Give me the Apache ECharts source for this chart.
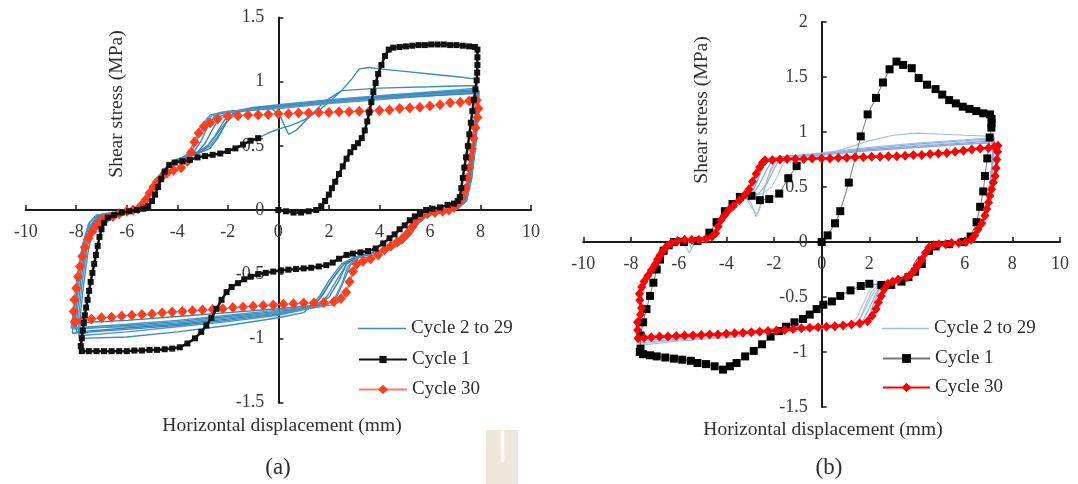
<!DOCTYPE html>
<html>
<head>
<meta charset="utf-8">
<script src="https://cdn.jsdelivr.net/npm/echarts@6/dist/echarts.min.js"></script>
<style>
  html, body { margin: 0; padding: 0; background: #fff; }
  #chart { width: 1078px; height: 484px; }
</style>
</head>
<body>
<div id="chart"></div>
<script>
// Axis ranges and tick steps: [min, max, interval]
const xRange = [-10, 10, 2];
const yRangeA = [-1.5, 1.5, 0.5];
const yRangeB = [-1.5, 2, 0.5];

// ---------- Panel (a): shear stress (MPa) vs horizontal displacement (mm) ----------
const cycle1A = [
  [0,0],[0.3,-0.01],[0.6,-0.02],[0.9,-0.02],[1.2,-0.01],[1.5,0.0],[1.7,0.03],[1.85,0.07],[2.0,0.12],[2.12,0.17],
  [2.25,0.22],[2.4,0.28],[2.55,0.34],[2.7,0.4],[2.85,0.45],[3.0,0.49],[3.15,0.52],[3.3,0.56],[3.42,0.62],[3.52,0.69],
  [3.6,0.76],[3.68,0.84],[3.76,0.92],[3.85,0.99],[3.95,1.06],[4.08,1.13],[4.22,1.2],[4.37,1.25],[4.55,1.265],[4.8,1.27],
  [5.05,1.275],[5.3,1.28],[5.55,1.285],[5.8,1.285],[6.05,1.29],[6.3,1.29],[6.55,1.29],[6.8,1.285],[7.05,1.285],[7.3,1.28],
  [7.55,1.275],[7.78,1.27],[7.88,1.25],[7.88,1.19],[7.88,1.13],[7.87,1.07],[7.85,1.01],[7.8,0.94],[7.74,0.86],[7.68,0.77],
  [7.62,0.68],[7.56,0.59],[7.5,0.5],[7.43,0.41],[7.36,0.33],[7.3,0.25],[7.24,0.17],[7.18,0.1],[7.1,0.07],[6.95,0.05],
  [6.7,0.04],[6.4,0.02],[6.1,0.01],[5.85,0.0],[5.6,-0.03],[5.4,-0.05],[5.2,-0.08],[5.0,-0.12],[4.8,-0.15],[4.6,-0.19],
  [4.4,-0.22],[4.15,-0.26],[3.85,-0.3],[3.55,-0.32],[3.25,-0.33],[2.95,-0.34],[2.7,-0.35],[2.4,-0.38],[2.15,-0.41],[1.9,-0.43],
  [1.6,-0.44],[1.3,-0.45],[1.0,-0.455],[0.7,-0.46],[0.4,-0.465],[0.1,-0.47],[-0.2,-0.48],[-0.5,-0.49],[-0.8,-0.5],[-1.1,-0.52],
  [-1.35,-0.54],[-1.6,-0.57],[-1.85,-0.6],[-2.05,-0.64],[-2.25,-0.7],[-2.45,-0.77],[-2.65,-0.84],[-2.85,-0.9],[-3.05,-0.95],[-3.3,-1.0],
  [-3.6,-1.04],[-3.9,-1.07],[-4.2,-1.08],[-4.5,-1.085],[-4.8,-1.09],[-5.1,-1.09],[-5.4,-1.095],[-5.7,-1.095],[-6.0,-1.1],[-6.3,-1.1],
  [-6.6,-1.1],[-6.9,-1.1],[-7.2,-1.1],[-7.5,-1.1],[-7.78,-1.1],[-7.82,-1.06],[-7.78,-1.0],[-7.74,-0.94],[-7.7,-0.88],[-7.66,-0.82],
  [-7.61,-0.76],[-7.55,-0.7],[-7.49,-0.63],[-7.43,-0.56],[-7.36,-0.49],[-7.29,-0.42],[-7.22,-0.35],[-7.15,-0.28],[-7.08,-0.21],[-7.0,-0.15],
  [-6.9,-0.1],[-6.75,-0.06],[-6.5,-0.04],[-6.2,-0.02],[-5.9,-0.01],[-5.6,0.0],[-5.35,0.01],[-5.15,0.03],[-5.0,0.07],[-4.88,0.12],
  [-4.76,0.18],[-4.64,0.24],[-4.5,0.3],[-4.32,0.35],[-4.1,0.37],[-3.8,0.38],[-3.5,0.39],[-3.2,0.41],[-2.9,0.42],[-2.6,0.43],
  [-2.3,0.44],[-2.0,0.46],[-1.7,0.48],[-1.4,0.51],[-1.1,0.54],[-0.8,0.56]
];

const cycle30A = [
  [-8.05,-0.87],[-8.1,-0.79],[-8.07,-0.7],[-8.0,-0.61],[-7.93,-0.52],[-7.85,-0.44],[-7.76,-0.36],[-7.66,-0.29],[-7.52,-0.22],[-7.37,-0.17],
  [-7.2,-0.12],[-7.0,-0.08],[-6.78,-0.06],[-6.55,-0.05],[-6.3,-0.03],[-6.0,-0.01],[-5.75,0.0],[-5.55,0.01],[-5.4,0.04],[-5.25,0.08],
  [-5.1,0.13],[-4.95,0.18],[-4.8,0.22],[-4.6,0.26],[-4.4,0.29],[-4.15,0.31],[-3.85,0.33],[-3.6,0.38],[-3.45,0.45],[-3.32,0.53],
  [-3.15,0.6],[-2.95,0.65],[-2.7,0.68],[-2.4,0.71],[-2.0,0.73],[-1.6,0.735],[-1.2,0.74],[-0.8,0.74],[-0.4,0.745],[0,0.75],
  [0.4,0.75],[0.8,0.755],[1.2,0.755],[1.6,0.76],[2.0,0.76],[2.4,0.765],[2.8,0.765],[3.2,0.77],[3.6,0.77],[4.0,0.775],
  [4.4,0.78],[4.8,0.79],[5.2,0.795],[5.6,0.8],[6.0,0.81],[6.4,0.82],[6.8,0.835],[7.2,0.84],[7.55,0.85],[7.85,0.855],
  [7.92,0.79],[7.88,0.72],[7.8,0.64],[7.73,0.56],[7.66,0.48],[7.6,0.41],[7.54,0.33],[7.48,0.25],[7.42,0.17],[7.3,0.11],
  [7.14,0.06],[6.95,0.02],[6.75,0.0],[6.5,-0.01],[6.2,-0.02],[5.9,-0.03],[5.65,-0.05],[5.45,-0.08],[5.3,-0.13],[5.12,-0.18],
  [4.92,-0.22],[4.7,-0.25],[4.45,-0.28],[4.2,-0.31],[3.95,-0.35],[3.65,-0.38],[3.35,-0.4],[3.1,-0.42],[2.95,-0.48],[2.82,-0.56],
  [2.68,-0.64],[2.48,-0.69],[2.2,-0.715],[1.8,-0.72],[1.4,-0.725],[1.0,-0.725],[0.6,-0.73],[0.2,-0.735],[-0.2,-0.74],[-0.6,-0.745],
  [-1.0,-0.75],[-1.4,-0.755],[-1.8,-0.76],[-2.2,-0.77],[-2.6,-0.775],[-3.0,-0.78],[-3.4,-0.785],[-3.8,-0.79],[-4.2,-0.795],[-4.6,-0.8],
  [-5.0,-0.81],[-5.4,-0.815],[-5.8,-0.82],[-6.2,-0.825],[-6.6,-0.835],[-7.0,-0.84],[-7.4,-0.85],[-7.75,-0.86],[-8.05,-0.87]
];

// Intermediate cycles 2 to 29 (panel a)
const cyclesMidA = [
  [[-0.8,0.56],[-0.4,0.6],[0,0.63],[0.5,0.66],[1.0,0.7],[1.5,0.76],[2.0,0.84],[2.5,0.93],[2.9,1.02],[3.2,1.1],[3.6,1.11],[4.0,1.1],[5.0,1.08],[6.0,1.06],[7.0,1.04],[7.85,1.02],[7.86,0.9],[7.78,0.7],[7.64,0.45],[7.48,0.2],[7.3,0.06],[7.0,0.02],[6.3,-0.01],[5.8,-0.04],[5.5,-0.1],[5.2,-0.19],[4.8,-0.26],[4.2,-0.31],[3.5,-0.34],[3.0,-0.37],[2.6,-0.42],[2.1,-0.55],[1.6,-0.7],[1.0,-0.8],[0,-0.84],[-2,-0.9],[-4,-0.95],[-6,-0.99],[-7.85,-1.0],[-7.85,-0.85],[-7.72,-0.6],[-7.55,-0.35],[-7.35,-0.15],[-7.05,-0.06],[-6.5,-0.02],[-6.0,0.0],[-5.5,0.03],[-5.2,0.1],[-4.9,0.2],[-4.6,0.3],[-4.2,0.38],[-3.7,0.42],[-3.2,0.45],[-2.8,0.5],[-2.4,0.6],[-2.0,0.7],[-1.6,0.76],[-1.0,0.79],[-0.3,0.8],[0.1,0.72],[0.4,0.59],[0.7,0.62],[1.2,0.72],[1.8,0.84],[2.5,0.93],[4.0,0.95],[6.0,0.96],[7.85,0.97]],
  [[7.85,0.97],[7.84,0.8],[7.74,0.55],[7.58,0.3],[7.4,0.1],[7.1,0.02],[6.4,-0.02],[5.9,-0.04],[5.55,-0.09],[5.25,-0.18],[4.9,-0.25],[4.4,-0.3],[3.7,-0.34],[3.1,-0.37],[2.7,-0.42],[2.3,-0.55],[1.9,-0.68],[1.4,-0.76],[0,-0.82],[-2,-0.87],[-4,-0.91],[-6,-0.95],[-7.9,-0.98],[-7.9,-0.82],[-7.76,-0.56],[-7.58,-0.3],[-7.38,-0.13],[-7.08,-0.05],[-6.5,-0.02],[-6.0,0.0],[-5.5,0.03],[-5.2,0.1],[-4.9,0.2],[-4.6,0.3],[-4.2,0.37],[-3.7,0.41],[-3.2,0.44],[-2.7,0.5],[-2.3,0.6],[-2.0,0.7],[-1.7,0.77],[-1.0,0.8],[0,0.82],[2,0.86],[4,0.89],[6,0.92],[7.88,0.95]],
  [[7.88,0.95],[7.86,0.78],[7.75,0.52],[7.58,0.27],[7.38,0.08],[7.05,0.01],[6.4,-0.02],[5.9,-0.04],[5.55,-0.1],[5.25,-0.18],[4.9,-0.25],[4.4,-0.3],[3.7,-0.34],[3.1,-0.37],[2.6,-0.42],[2.2,-0.52],[1.8,-0.65],[1.4,-0.75],[0,-0.8],[-2,-0.85],[-4,-0.89],[-6,-0.92],[-8.0,-0.95],[-7.95,-0.78],[-7.8,-0.52],[-7.6,-0.28],[-7.4,-0.12],[-7.1,-0.05],[-6.5,-0.02],[-6.0,0.0],[-5.5,0.03],[-5.2,0.1],[-4.9,0.2],[-4.6,0.3],[-4.2,0.37],[-3.7,0.41],[-3.2,0.44],[-2.7,0.48],[-2.4,0.56],[-2.1,0.67],[-1.8,0.75],[-1.2,0.79],[0,0.81],[2,0.85],[4,0.88],[6,0.91],[7.9,0.94]],
  [[7.9,0.94],[7.87,0.76],[7.77,0.5],[7.6,0.25],[7.4,0.07],[7.05,0.01],[6.4,-0.02],[5.9,-0.04],[5.55,-0.1],[5.25,-0.18],[4.9,-0.25],[4.4,-0.3],[3.7,-0.34],[3.2,-0.37],[2.85,-0.43],[2.6,-0.55],[2.3,-0.68],[1.9,-0.74],[0,-0.79],[-2,-0.83],[-4,-0.87],[-6,-0.9],[-8.05,-0.93],[-8.0,-0.75],[-7.85,-0.5],[-7.65,-0.27],[-7.45,-0.12],[-7.15,-0.05],[-6.5,-0.02],[-6.0,0.0],[-5.5,0.03],[-5.2,0.1],[-4.9,0.2],[-4.6,0.3],[-4.2,0.37],[-3.7,0.4],[-3.35,0.45],[-3.05,0.54],[-2.8,0.65],[-2.5,0.74],[-1.8,0.77],[0,0.8],[2,0.84],[4,0.87],[6,0.9],[7.9,0.93]],
  [[7.9,0.93],[7.88,0.74],[7.8,0.5],[7.64,0.25],[7.44,0.07],[7.08,0.01],[6.4,-0.02],[5.9,-0.04],[5.55,-0.1],[5.25,-0.19],[4.9,-0.26],[4.4,-0.31],[3.8,-0.35],[3.3,-0.38],[3.0,-0.45],[2.8,-0.58],[2.55,-0.7],[2.1,-0.74],[0,-0.78],[-2,-0.82],[-4,-0.86],[-6,-0.89],[-8.1,-0.92],[-8.05,-0.74],[-7.9,-0.48],[-7.7,-0.25],[-7.48,-0.1],[-7.15,-0.04],[-6.5,-0.02],[-6.0,0.0],[-5.5,0.03],[-5.2,0.1],[-4.9,0.2],[-4.6,0.3],[-4.2,0.36],[-3.8,0.4],[-3.5,0.46],[-3.3,0.55],[-3.1,0.64],[-2.8,0.72],[-2.3,0.76],[0,0.79],[2,0.83],[4,0.86],[6,0.89],[7.92,0.92]],
  [[7.92,0.92],[7.88,0.74],[7.78,0.5],[7.62,0.26],[7.42,0.08],[7.08,0.01],[6.4,-0.02],[5.9,-0.04],[5.55,-0.1],[5.25,-0.18],[4.9,-0.25],[4.4,-0.3],[3.7,-0.34],[3.1,-0.37],[2.7,-0.42],[2.4,-0.55],[2.0,-0.68],[1.6,-0.74],[0,-0.77],[-2,-0.8],[-4,-0.83],[-6,-0.86],[-8.1,-0.88],[-8.05,-0.72],[-7.9,-0.47],[-7.7,-0.25],[-7.48,-0.1],[-7.15,-0.04],[-6.5,-0.02],[-6.0,0.0],[-5.5,0.03],[-5.2,0.1],[-4.9,0.2],[-4.6,0.3],[-4.2,0.37],[-3.7,0.41],[-3.2,0.45],[-2.9,0.52],[-2.6,0.63],[-2.3,0.73],[-1.8,0.77],[0,0.8],[2,0.84],[4,0.87],[6,0.89],[7.92,0.91]],
  [[7.92,0.91],[7.9,0.72],[7.8,0.48],[7.65,0.24],[7.45,0.07],[7.1,0.01],[6.4,-0.02],[5.9,-0.04],[5.55,-0.1],[5.25,-0.18],[4.9,-0.25],[4.4,-0.3],[3.7,-0.34],[3.0,-0.37],[2.5,-0.42],[2.0,-0.55],[1.6,-0.68],[1.2,-0.76],[0,-0.81],[-2,-0.86],[-4,-0.9],[-6,-0.93],[-8.15,-0.96],[-8.1,-0.78],[-7.95,-0.52],[-7.75,-0.28],[-7.52,-0.11],[-7.2,-0.04],[-6.5,-0.02],[-6.0,0.0],[-5.5,0.03],[-5.2,0.1],[-4.9,0.2],[-4.6,0.3],[-4.2,0.37],[-3.7,0.41],[-3.2,0.45],[-2.8,0.5],[-2.5,0.58],[-2.2,0.68],[-1.9,0.76],[-1.2,0.79],[0,0.81],[2,0.85],[4,0.88],[6,0.91],[7.95,0.93]],
  [[7.95,0.93],[7.9,0.75],[7.8,0.5],[7.64,0.26],[7.44,0.08],[7.1,0.01],[6.4,-0.02],[5.9,-0.04],[5.55,-0.1],[5.25,-0.18],[4.9,-0.25],[4.4,-0.3],[3.7,-0.34],[3.1,-0.37],[2.75,-0.44],[2.5,-0.58],[2.2,-0.7],[1.8,-0.75],[0,-0.8],[-2,-0.84],[-4,-0.88],[-6,-0.91],[-8.2,-0.92],[-8.1,-0.76],[-7.95,-0.5],[-7.75,-0.27],[-7.5,-0.11],[-7.2,-0.04],[-6.5,-0.02],[-6.0,0.0],[-5.5,0.03],[-5.2,0.1],[-4.9,0.2],[-4.6,0.3],[-4.2,0.37],[-3.7,0.41],[-3.4,0.47],[-3.2,0.56],[-2.95,0.66],[-2.7,0.74],[-2.0,0.77],[0,0.8],[2,0.84],[4,0.87],[6,0.9],[7.95,0.92]]
];

// ---------- Panel (b) ----------
const cycle1B = [
  [0,0],[0.25,0.06],[0.56,0.17],[0.78,0.28],[1.14,0.54],[1.64,0.96],[1.93,1.16],[2.28,1.31],[2.57,1.45],[2.85,1.57],
  [3.14,1.64],[3.42,1.61],[3.78,1.58],[4.07,1.49],[4.42,1.43],[4.78,1.39],[5.06,1.34],[5.35,1.29],[5.63,1.26],[5.92,1.23],
  [6.2,1.21],[6.49,1.19],[6.78,1.17],[7.06,1.16],[7.13,1.12],[7.13,1.08],[7.12,1.04],[7.05,0.95],[6.95,0.76],[6.85,0.6],
  [6.78,0.46],[6.65,0.32],[6.5,0.18],[6.25,0.05],[5.95,0.0],[5.35,-0.02],[4.78,-0.04],[4.5,-0.08],[4.2,-0.2],[3.92,-0.27],
  [3.64,-0.32],[3.35,-0.36],[2.92,-0.39],[2.5,-0.39],[2.0,-0.38],[1.64,-0.4],[1.21,-0.44],[0.78,-0.49],[0.43,-0.54],[0.07,-0.57],
  [-0.21,-0.61],[-0.5,-0.66],[-0.78,-0.7],[-1.14,-0.73],[-1.5,-0.77],[-1.78,-0.81],[-2.14,-0.86],[-2.5,-0.93],[-2.85,-0.99],[-3.21,-1.04],
  [-3.57,-1.1],[-3.85,-1.13],[-4.14,-1.16],[-4.49,-1.13],[-4.85,-1.11],[-5.21,-1.1],[-5.49,-1.08],[-5.85,-1.07],[-6.2,-1.06],[-6.56,-1.05],
  [-6.92,-1.04],[-7.2,-1.03],[-7.49,-1.02],[-7.63,-1.0],[-7.6,-0.97],[-7.6,-0.85],[-7.49,-0.73],[-7.35,-0.61],[-7.2,-0.49],[-7.06,-0.37],
  [-6.92,-0.25],[-6.78,-0.16],[-6.63,-0.08],[-6.42,-0.03],[-6.2,0.0],[-5.78,0.0],[-5.21,0.01],[-4.71,0.085],[-4.41,0.18],[-4.06,0.28],
  [-3.74,0.345],[-3.43,0.41],[-2.94,0.42],[-2.59,0.38],[-2.2,0.39],[-1.78,0.44],[-1.4,0.58],[-1.05,0.69]
];

const cycle30B = [
  [-2.38,0.74],[-2.07,0.745],[-1.75,0.75],[-1.45,0.755],[-1.1,0.755],[-0.75,0.755],[-0.4,0.76],[0,0.76],[0.35,0.76],[0.7,0.765],
  [1.05,0.765],[1.4,0.77],[1.75,0.77],[2.1,0.775],[2.45,0.775],[2.8,0.78],[3.15,0.78],[3.5,0.785],[3.85,0.79],[4.2,0.79],
  [4.55,0.8],[4.9,0.805],[5.25,0.81],[5.6,0.82],[5.95,0.83],[6.3,0.84],[6.65,0.85],[7.0,0.855],[7.25,0.865],[7.4,0.875],
  [7.38,0.82],[7.35,0.75],[7.32,0.67],[7.28,0.6],[7.2,0.54],[7.13,0.48],[7.06,0.42],[7.0,0.36],[6.93,0.3],[6.85,0.24],
  [6.72,0.17],[6.56,0.115],[6.42,0.06],[6.28,0.02],[6.05,0.0],[5.75,-0.01],[5.45,-0.01],[5.2,-0.02],[4.92,-0.02],[4.7,-0.03],
  [4.5,-0.05],[4.35,-0.1],[4.2,-0.16],[4.05,-0.21],[3.92,-0.25],[3.75,-0.29],[3.57,-0.32],[3.21,-0.34],[2.98,-0.36],[2.78,-0.38],
  [2.62,-0.43],[2.5,-0.49],[2.38,-0.55],[2.28,-0.61],[2.12,-0.67],[1.93,-0.72],[1.6,-0.74],[1.25,-0.75],[0.9,-0.76],[0.55,-0.765],
  [0.2,-0.77],[-0.15,-0.775],[-0.5,-0.78],[-0.85,-0.785],[-1.2,-0.79],[-1.55,-0.8],[-1.9,-0.805],[-2.25,-0.81],[-2.6,-0.815],[-2.95,-0.82],
  [-3.3,-0.825],[-3.65,-0.83],[-4.0,-0.835],[-4.35,-0.84],[-4.7,-0.84],[-5.05,-0.845],[-5.4,-0.85],[-5.75,-0.85],[-6.1,-0.855],[-6.45,-0.86],
  [-6.8,-0.86],[-7.15,-0.865],[-7.45,-0.87],[-7.7,-0.875],[-7.72,-0.8],[-7.73,-0.73],[-7.6,-0.66],[-7.56,-0.6],[-7.63,-0.53],[-7.65,-0.47],
  [-7.55,-0.41],[-7.45,-0.36],[-7.3,-0.31],[-7.15,-0.26],[-7.0,-0.21],[-6.88,-0.16],[-6.78,-0.12],[-6.65,-0.08],[-6.5,-0.04],[-6.3,-0.01],
  [-6.05,0.01],[-5.75,0.02],[-5.45,0.02],[-5.15,0.02],[-4.85,0.03],[-4.6,0.05],[-4.45,0.08],[-4.34,0.14],[-4.22,0.2],[-4.08,0.24],
  [-3.9,0.29],[-3.7,0.33],[-3.45,0.38],[-3.22,0.43],[-3.05,0.48],[-2.9,0.55],[-2.75,0.62],[-2.6,0.68],[-2.48,0.72],[-2.38,0.74]
];

// Intermediate cycles 2 to 29 (panel b)
const cyclesMidB = [
  [[-1.05,0.69],[-0.5,0.76],[0,0.79],[1,0.85],[2,0.92],[3,0.97],[4,0.99],[5,0.98],[6,0.97],[7.2,0.96],[7.2,0.85],[7.12,0.65],[7.0,0.45],[6.85,0.27],[6.65,0.12],[6.4,0.03],[6.0,0.0],[5.4,-0.01],[4.9,-0.02],[4.6,-0.05],[4.35,-0.12],[4.1,-0.21],[3.8,-0.27],[3.4,-0.32],[2.9,-0.36],[2.5,-0.38],[2.2,-0.45],[1.9,-0.58],[1.6,-0.7],[1.2,-0.76],[0,-0.79],[-2,-0.83],[-4,-0.87],[-6,-0.9],[-7.65,-0.94],[-7.7,-0.8],[-7.6,-0.6],[-7.45,-0.42],[-7.2,-0.27],[-6.95,-0.15],[-6.7,-0.06],[-6.4,-0.01],[-6.0,0.01],[-5.7,-0.04],[-5.55,-0.1],[-5.4,-0.03],[-5.0,0.01],[-4.6,0.04],[-4.35,0.12],[-4.15,0.22],[-3.9,0.3],[-3.5,0.37],[-3.2,0.42],[-2.95,0.35],[-2.75,0.23],[-2.6,0.3],[-2.45,0.45],[-2.2,0.62],[-1.9,0.74],[-1.4,0.78],[0,0.81],[2,0.86],[4,0.9],[6,0.93],[7.25,0.95]],
  [[7.25,0.95],[7.22,0.8],[7.14,0.6],[7.02,0.42],[6.88,0.25],[6.68,0.11],[6.42,0.02],[6.0,0.0],[5.4,-0.01],[4.9,-0.02],[4.6,-0.05],[4.35,-0.12],[4.1,-0.21],[3.8,-0.27],[3.4,-0.32],[2.9,-0.36],[2.5,-0.39],[2.25,-0.48],[2.0,-0.6],[1.75,-0.71],[1.4,-0.75],[0,-0.78],[-2,-0.81],[-4,-0.85],[-6,-0.88],[-7.7,-0.92],[-7.72,-0.78],[-7.62,-0.58],[-7.45,-0.4],[-7.2,-0.25],[-6.95,-0.14],[-6.7,-0.05],[-6.4,-0.01],[-6.0,0.01],[-5.5,0.01],[-5.0,0.01],[-4.6,0.04],[-4.35,0.12],[-4.15,0.22],[-3.9,0.3],[-3.5,0.37],[-3.1,0.42],[-2.8,0.46],[-2.55,0.55],[-2.3,0.66],[-2.05,0.75],[-1.5,0.78],[0,0.8],[2,0.85],[4,0.89],[6,0.92],[7.25,0.94]],
  [[7.25,0.94],[7.2,0.78],[7.1,0.58],[6.98,0.4],[6.84,0.24],[6.64,0.1],[6.4,0.02],[6.0,0.0],[5.4,-0.01],[4.9,-0.02],[4.6,-0.05],[4.35,-0.12],[4.1,-0.21],[3.8,-0.27],[3.4,-0.32],[2.9,-0.36],[2.3,-0.38],[2.0,-0.44],[1.75,-0.56],[1.5,-0.68],[1.2,-0.75],[0,-0.78],[-2,-0.82],[-4,-0.86],[-6,-0.89],[-7.75,-0.93],[-7.75,-0.78],[-7.64,-0.58],[-7.47,-0.4],[-7.22,-0.25],[-6.97,-0.14],[-6.72,-0.05],[-6.4,-0.01],[-6.0,0.01],[-5.5,0.01],[-5.0,0.01],[-4.6,0.04],[-4.35,0.12],[-4.15,0.22],[-3.9,0.3],[-3.5,0.37],[-3.0,0.41],[-2.5,0.44],[-2.1,0.5],[-1.85,0.6],[-1.65,0.7],[-1.4,0.77],[0,0.8],[2,0.84],[4,0.88],[6,0.91],[7.22,0.93]],
  [[7.22,0.93],[7.2,0.77],[7.12,0.58],[7.0,0.4],[6.86,0.24],[6.66,0.1],[6.42,0.02],[6.0,0.0],[5.4,-0.01],[4.9,-0.02],[4.6,-0.05],[4.35,-0.12],[4.1,-0.21],[3.8,-0.27],[3.4,-0.32],[3.0,-0.36],[2.7,-0.38],[2.45,-0.47],[2.25,-0.6],[2.0,-0.7],[1.6,-0.75],[0,-0.77],[-2,-0.8],[-4,-0.84],[-6,-0.87],[-7.7,-0.9],[-7.72,-0.76],[-7.62,-0.56],[-7.45,-0.38],[-7.2,-0.24],[-6.95,-0.13],[-6.7,-0.05],[-6.4,-0.01],[-6.0,0.01],[-5.5,0.01],[-5.0,0.01],[-4.6,0.04],[-4.35,0.12],[-4.15,0.22],[-3.9,0.3],[-3.5,0.37],[-3.1,0.42],[-2.85,0.48],[-2.65,0.58],[-2.45,0.69],[-2.2,0.76],[-1.5,0.78],[0,0.8],[2,0.84],[4,0.87],[6,0.9],[7.22,0.92]],
  [[7.22,0.92],[7.18,0.76],[7.08,0.56],[6.96,0.38],[6.82,0.22],[6.62,0.09],[6.4,0.02],[6.0,0.0],[5.4,-0.01],[4.9,-0.02],[4.6,-0.05],[4.35,-0.12],[4.1,-0.21],[3.8,-0.27],[3.4,-0.32],[2.9,-0.36],[2.4,-0.38],[2.1,-0.45],[1.85,-0.57],[1.65,-0.68],[1.4,-0.74],[0,-0.77],[-2,-0.79],[-4,-0.82],[-6,-0.84],[-7.6,-0.86],[-7.65,-0.74],[-7.58,-0.56],[-7.42,-0.38],[-7.18,-0.24],[-6.93,-0.13],[-6.68,-0.05],[-6.4,-0.01],[-6.0,0.01],[-5.6,0.0],[-5.45,-0.06],[-5.3,0.0],[-4.9,0.01],[-4.6,0.04],[-4.35,0.12],[-4.15,0.22],[-3.9,0.3],[-3.5,0.37],[-3.2,0.41],[-2.9,0.3],[-2.7,0.25],[-2.55,0.35],[-2.35,0.52],[-2.1,0.68],[-1.8,0.76],[-1.2,0.78],[0,0.8],[2,0.83],[4,0.86],[6,0.89],[7.2,0.91]],
  [[7.2,0.91],[7.16,0.75],[7.06,0.55],[6.94,0.38],[6.8,0.22],[6.6,0.09],[6.38,0.02],[6.0,0.0],[5.4,-0.01],[4.9,-0.02],[4.6,-0.05],[4.35,-0.12],[4.1,-0.21],[3.8,-0.27],[3.4,-0.32],[2.9,-0.36],[2.6,-0.38],[2.35,-0.46],[2.15,-0.58],[1.95,-0.69],[1.6,-0.74],[0,-0.76],[-2,-0.79],[-4,-0.83],[-6,-0.86],[-7.68,-0.88],[-7.7,-0.74],[-7.6,-0.55],[-7.44,-0.38],[-7.2,-0.24],[-6.95,-0.13],[-6.7,-0.05],[-6.4,-0.01],[-6.0,0.01],[-5.5,0.01],[-5.0,0.01],[-4.6,0.04],[-4.35,0.12],[-4.15,0.22],[-3.9,0.3],[-3.5,0.37],[-3.0,0.41],[-2.6,0.45],[-2.3,0.53],[-2.05,0.64],[-1.8,0.74],[-1.3,0.77],[0,0.79],[2,0.83],[4,0.86],[6,0.89],[7.2,0.9]]
];

// ---------- Layout and styling ----------
const SERIF = '"Liberation Serif", "Times New Roman", serif';
const INK = '#2e2e2e';
const grids = [
  { left: 25.7, top: 17.5, width: 505.3, height: 385 },
  { left: 583.3, top: 22, width: 476.7, height: 385 }
];

// Axes cross at the origin: each axis is shifted from the grid edge onto the other axis' zero.
function axisPair(gridIndex, yRange) {
  const g = grids[gridIndex];
  const xZeroShift = g.width * (0 - xRange[0]) / (xRange[1] - xRange[0]);
  const yZeroShift = g.height * (0 - yRange[0]) / (yRange[1] - yRange[0]);
  const axisLine = { onZero: false, lineStyle: { color: '#1a1a1a', width: 2 } };
  const axisTick = { inside: true, length: 5, lineStyle: { color: '#1a1a1a', width: 1.5 } };
  const label = { fontFamily: SERIF, fontSize: 18, color: '#3a3a3a' };
  return {
    x: {
      type: 'value', gridIndex, position: 'bottom', offset: -yZeroShift,
      min: xRange[0], max: xRange[1], interval: xRange[2],
      axisLine, axisTick, splitLine: { show: false },
      axisLabel: Object.assign({ margin: 13 }, label)
    },
    y: {
      type: 'value', gridIndex, position: 'left', offset: -xZeroShift,
      min: yRange[0], max: yRange[1], interval: yRange[2],
      axisLine, axisTick, splitLine: { show: false },
      axisLabel: Object.assign({ margin: 14 }, label)
    }
  };
}

function midSeries(name, loops, idx, colors, width) {
  return loops.map((d, i) => ({
    type: 'line', name, xAxisIndex: idx, yAxisIndex: idx, data: d,
    symbol: 'none', silent: true, z: 2,
    itemStyle: { color: colors[i % colors.length] },
    lineStyle: { color: colors[i % colors.length], width }
  }));
}

const axA = axisPair(0, yRangeA);
const axB = axisPair(1, yRangeB);

const series = [].concat(
  midSeries('a|Cycle 2 to 29', cyclesMidA, 0, ['#3b8bbf', '#4a97c8', '#3383b8'], 1.4),
  [{
    type: 'line', name: 'a|Cycle 30', xAxisIndex: 0, yAxisIndex: 0, data: cycle30A, z: 3,
    symbol: 'diamond', symbolSize: [10, 11], showAllSymbol: true,
    itemStyle: { color: '#ff3d1f' }, lineStyle: { color: '#ff7a62', width: 1 }
  }, {
    type: 'line', name: 'a|Cycle 1', xAxisIndex: 0, yAxisIndex: 0, data: cycle1A, z: 4,
    symbol: 'rect', symbolSize: 6, showAllSymbol: true,
    itemStyle: { color: '#111' }, lineStyle: { color: '#111', width: 2.5 }
  }],
  midSeries('b|Cycle 2 to 29', cyclesMidB, 1, ['#9dbce6', '#86aadd', '#aec8ec', '#7aa2d8'], 1.1),
  [{
    type: 'line', name: 'b|Cycle 1', xAxisIndex: 1, yAxisIndex: 1, data: cycle1B, z: 3,
    symbol: 'rect', symbolSize: 8, showAllSymbol: true,
    itemStyle: { color: '#000' }, lineStyle: { color: '#777', width: 1 }
  }, {
    type: 'line', name: 'b|Cycle 30', xAxisIndex: 1, yAxisIndex: 1, data: cycle30B, z: 4,
    symbol: 'diamond', symbolSize: [9, 10], showAllSymbol: true,
    itemStyle: { color: '#ff0000' }, lineStyle: { color: '#ff0000', width: 2.5 }
  }]
);

function legendItem(name, left, centerY, itemWidth, itemHeight, icon) {
  const entry = { name };
  if (icon) entry.icon = icon;
  return {
    data: [entry], left, top: centerY - 13, orient: 'vertical',
    itemWidth, itemHeight, selectedMode: false,
    formatter: n => n.split('|')[1],
    textStyle: { fontFamily: SERIF, fontSize: 19, color: INK }
  };
}

const legends = [
  legendItem('a|Cycle 2 to 29', 353, 327, 48, 10, 'path://M0 0H48V1.3H0Z'),
  legendItem('a|Cycle 1', 353, 358, 48, 9),
  legendItem('a|Cycle 30', 353, 388, 48, 12),
  legendItem('b|Cycle 2 to 29', 877, 327, 47, 10, 'path://M0 0H48V1.3H0Z'),
  legendItem('b|Cycle 1', 877, 357, 47, 11),
  legendItem('b|Cycle 30', 877, 386, 47, 12)
];

function label(text, x, y, size, rotate) {
  return {
    type: 'text', x, y, rotation: rotate ? Math.PI / 2 : 0, silent: true,
    style: { text, fontFamily: SERIF, fontSize: size, fill: INK, align: 'center', verticalAlign: 'middle',
             textAlign: 'center', textVerticalAlign: 'middle' }
  };
}

const chart = echarts.init(document.getElementById('chart'), null, { renderer: 'canvas' });
chart.setOption({
  animation: false,
  backgroundColor: '#fff',
  grid: grids.map(g => Object.assign({ outerBoundsMode: 'none', containLabel: false }, g)),
  xAxis: [axA.x, axB.x],
  yAxis: [axA.y, axB.y],
  legend: legends,
  series,
  graphic: [
    label('Shear stress (MPa)', 117, 104, 19.5, true),
    label('Horizontal displacement (mm)', 282, 426, 19.5, false),
    label('(a)', 278, 468, 23, false),
    label('Shear stress (MPa)', 702, 110, 19.5, true),
    label('Horizontal displacement (mm)', 823, 430, 19.5, false),
    label('(b)', 829, 468, 23, false),
    { type: 'rect', shape: { x: 486, y: 430, width: 32, height: 54 }, style: { fill: '#eee6d8' }, silent: true },
    { type: 'rect', shape: { x: 500.5, y: 430, width: 4, height: 32 }, style: { fill: '#fbf9f5' }, silent: true }
  ]
});
</script>
</body>
</html>
